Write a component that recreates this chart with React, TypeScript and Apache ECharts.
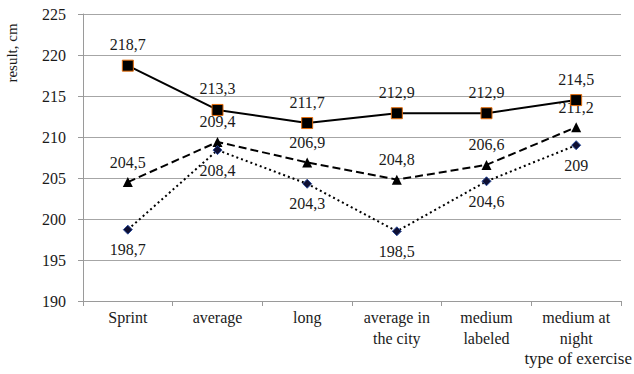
import React, { useEffect, useRef } from "react";
import * as echarts from "echarts";

const categories = [
  "Sprint",
  "average",
  "long",
  "average in\nthe city",
  "medium\nlabeled",
  "medium at\nnight",
];
const solidSeries = [218.7, 213.3, 211.7, 212.9, 212.9, 214.5];
const dashedSeries = [204.5, 209.4, 206.9, 204.8, 206.6, 211.2];
const dottedSeries = [198.7, 208.4, 204.3, 198.5, 204.6, 209];

const FONT = "Liberation Serif, Times New Roman, DejaVu Serif, serif";
const fmt = (p: any) => String(p.value).replace(".", ",");

export default function App() {
  const ref = useRef<HTMLDivElement>(null);

  useEffect(() => {
    if (!ref.current) return;
    const chart = echarts.init(ref.current, null, { renderer: "svg" });
    const labelStyle = {
      show: true,
      formatter: fmt,
      fontFamily: FONT,
      fontSize: 16,
      color: "#1a1a1a",
      distance: 7,
    };
    chart.setOption({
      animation: false,
      backgroundColor: "#ffffff",
      textStyle: { fontFamily: FONT },
      grid: { left: 83, right: 13, top: 14, bottom: 73 },
      xAxis: {
        type: "category",
        data: categories,
        boundaryGap: true,
        axisLine: { lineStyle: { color: "#9a9a9a", width: 1 } },
        axisTick: { show: true, length: 5, lineStyle: { color: "#9a9a9a" } },
        axisLabel: {
          fontFamily: FONT,
          fontSize: 16,
          color: "#1a1a1a",
          margin: 6,
          lineHeight: 21,
          interval: 0,
        },
        splitLine: { show: false },
      },
      yAxis: {
        type: "value",
        min: 190,
        max: 225,
        interval: 5,
        axisLine: { show: true, lineStyle: { color: "#9a9a9a", width: 1 } },
        axisTick: { show: true, length: 5, lineStyle: { color: "#9a9a9a" } },
        axisLabel: {
          fontFamily: FONT,
          fontSize: 16,
          color: "#1a1a1a",
          margin: 17,
        },
        splitLine: { show: true, lineStyle: { color: "#a6a6a6", width: 1 } },
      },
      graphic: [
        {
          type: "text",
          x: 12,
          y: 53,
          rotation: Math.PI / 2,
          style: {
            text: "result, cm",
            fontFamily: FONT,
            fontSize: 15,
            fill: "#1a1a1a",
            align: "center",
            verticalAlign: "middle",
          },
        },
        {
          type: "text",
          right: 2,
          top: 350,
          style: {
            text: "type of exercise",
            fontFamily: FONT,
            fontSize: 17,
            fill: "#1a1a1a",
          },
        },
      ],
      series: [
        {
          type: "line",
          data: dashedSeries,
          symbol: "triangle",
          symbolSize: 10,
          itemStyle: { color: "#000000" },
          lineStyle: { color: "#000000", width: 2, type: [8, 4] },
          label: { ...labelStyle, position: "top" },
          z: 2,
        },
        {
          type: "line",
          data: dottedSeries,
          symbol: "diamond",
          symbolSize: 9,
          itemStyle: { color: "#0f1033", borderColor: "#2a4a9a", borderWidth: 1 },
          lineStyle: { color: "#000000", width: 2, type: [2, 3] },
          label: { ...labelStyle, position: "bottom" },
          z: 2,
        },
        {
          type: "line",
          data: solidSeries,
          symbol: "rect",
          symbolSize: 11,
          itemStyle: { color: "#000000", borderColor: "#e46c0a", borderWidth: 1 },
          lineStyle: { color: "#000000", width: 2 },
          label: { ...labelStyle, position: "top" },
          z: 3,
        },
      ],
    });
    return () => chart.dispose();
  }, []);

  return (
    <div
      ref={ref}
      style={{ position: "fixed", left: 0, top: 0, width: 634, height: 374 }}
    />
  );
}
